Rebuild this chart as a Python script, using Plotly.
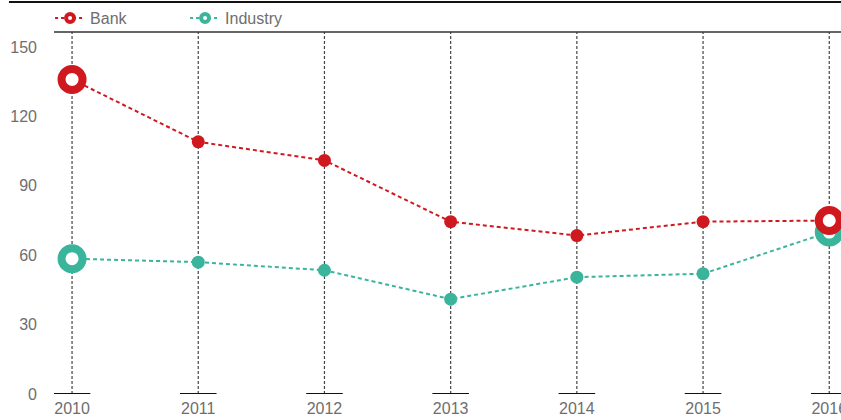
import plotly.graph_objects as go

years = [2010, 2011, 2012, 2013, 2014, 2015, 2016]
year_labels = ["2010", "2011", "2012", "2013", "2014", "2015", "2016"]
bank = [136, 109, 101, 74.5, 68.5, 74.5, 75]
industry = [58.5, 57, 53.5, 41, 50.5, 52, 70]
y_ticks = [0, 30, 60, 90, 120, 150]

RED = "#d0191f"
TEAL = "#3ab59c"
GREY = "#6e6e6e"
FONT = "Liberation Sans"

def marker_style(color, n):
    sizes = [21 if i in (0, n - 1) else 13 for i in range(n)]
    fills = ["white" if i in (0, n - 1) else color for i in range(n)]
    widths = [8 if i in (0, n - 1) else 0 for i in range(n)]
    return dict(size=sizes, color=fills, line=dict(color=color, width=widths), symbol="circle", opacity=1)

fig = go.Figure()
for name, vals, col in [("Industry", industry, TEAL), ("Bank", bank, RED)]:
    fig.add_trace(go.Scatter(
        x=years, y=vals, mode="lines+markers", name=name, showlegend=False,
        line=dict(color=col, width=2, dash="4px,3px"),
        marker=marker_style(col, len(years)), cliponaxis=False,
    ))
for name, col in [("Bank", RED), ("Industry", TEAL)]:
    fig.add_trace(go.Scatter(
        x=[None], y=[None], mode="lines+markers", name=name,
        line=dict(color=col, width=2, dash="dot"),
        marker=dict(size=8, color="white", line=dict(color=col, width=4), symbol="circle"),
    ))

shapes = []
for yr in years:
    shapes.append(dict(type="line", xref="x", yref="paper", x0=yr, x1=yr, y0=0, y1=1,
                       line=dict(color="#444444", width=1.2, dash="3px,2px"), layer="below"))
    shapes.append(dict(type="line", xref="x", yref="y", x0=yr - 0.145, x1=yr + 0.145, y0=0, y1=0,
                       line=dict(color="#111111", width=2), layer="above"))
shapes.append(dict(type="line", xref="paper", yref="paper", x0=0, x1=1, y0=1, y1=1,
                   line=dict(color="#333333", width=1.5)))
shapes.append(dict(type="line", xref="paper", yref="paper", x0=-0.0572, x1=1, y0=1.0829, y1=1.0829,
                   line=dict(color="#111111", width=2)))

fig.update_layout(
    width=841, height=420,
    margin=dict(l=54, r=0, t=32, b=26, autoexpand=False),
    paper_bgcolor="white", plot_bgcolor="white",
    font=dict(family=FONT, size=16, color=GREY),
    shapes=shapes,
    showlegend=True,
    legend=dict(orientation="h", x=-0.005, xanchor="left", y=1.0387, yanchor="middle",
                font=dict(size=16, color=GREY), entrywidth=90, entrywidthmode="pixels",
                bgcolor="rgba(0,0,0,0)", borderwidth=0),
    xaxis=dict(range=[2009.857, 2016.093], tickvals=years, ticktext=year_labels,
               showgrid=False, zeroline=False, showline=False, ticks="", ticklabelstandoff=3,
               ticklabeloverflow="allow", automargin=False, tickfont=dict(size=16, color=GREY)),
    yaxis=dict(range=[0, 156.5], tickvals=y_ticks, showgrid=False, zeroline=False, automargin=False,
               showline=False, ticks="", ticklabelstandoff=16, tickfont=dict(size=16, color=GREY)),
)

fig.write_html("out.html")
